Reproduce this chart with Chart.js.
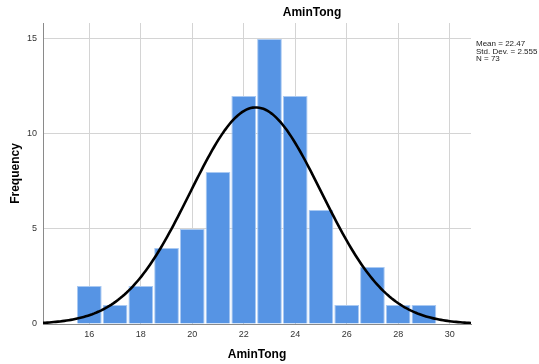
<!DOCTYPE html>
<html>
<head>
<meta charset="utf-8">
<script src="https://cdn.jsdelivr.net/npm/chart.js@4"></script>
<style>
  html, body { margin: 0; padding: 0; background: #fff; }
  #wrap { width: 539px; height: 364px; }
</style>
</head>
<body>
<div id="wrap"><canvas id="myChart" width="539" height="364"></canvas></div>
<script>
// histogram bins (bin centre, width 1) and counts
const binCenters = [16, 17, 18, 19, 20, 21, 22, 23, 24, 25, 26, 27, 28, 29];
const counts = [2, 1, 2, 4, 5, 8, 12, 15, 12, 6, 1, 3, 1, 1];
const yTicks = [0, 5, 10, 15];
const xTicks = [16, 18, 20, 22, 24, 26, 28, 30];

// stats shown at the right, used for the normal curve
const mean = 22.47;
const stdDev = 2.555;
const n = 73;
const statsLines = ['Mean = 22.47', 'Std. Dev. = 2.555', 'N = 73'];

const xMin = 14.2;
const xMax = 30.83;

// fitted normal curve, scaled to counts (bin width 1)
const curvePoints = [];
for (let i = 0; i <= 200; i++) {
  const x = xMin + (xMax - xMin) * i / 200;
  const z = (x - mean) / stdDev;
  const y = n / (stdDev * Math.sqrt(2 * Math.PI)) * Math.exp(-0.5 * z * z);
  curvePoints.push({ x: x, y: y });
}

const textPlugin = {
  id: 'spssText',
  afterDraw(chart) {
    const { ctx } = chart;
    ctx.save();
    ctx.fillStyle = '#000';
    ctx.font = 'bold 12px "Liberation Sans", Arial, sans-serif';
    ctx.textAlign = 'center';
    ctx.textBaseline = 'middle';
    ctx.fillText('AminTong', 312, 13);

    ctx.font = '8px "Liberation Sans", Arial, sans-serif';
    ctx.textAlign = 'left';
    ctx.fillStyle = '#222';
    statsLines.forEach((line, i) => {
      ctx.fillText(line, 476, 44 + i * 7.5);
    });
    ctx.restore();
  },
};

const ctx = document.getElementById('myChart');
new Chart(ctx, {
  type: 'bar',
  data: {
    datasets: [
      {
        type: 'line',
        data: curvePoints,
        borderColor: '#000',
        borderWidth: 2.6,
        pointRadius: 0,
        tension: 0,
        fill: false,
        order: 0,
      },
      {
        type: 'bar',
        data: binCenters.map((c, i) => ({ x: c, y: counts[i] })),
        backgroundColor: '#5694e4',
        borderColor: '#a9c9f2',
        borderWidth: 1,
        barPercentage: 0.96,
        categoryPercentage: 1,
        order: 1,
      },
    ],
  },
  options: {
    responsive: false,
    animation: false,
    layout: { padding: { top: 23, right: 68, left: 0, bottom: 0 } },
    plugins: {
      legend: { display: false },
      tooltip: { enabled: false },
      title: { display: false },
    },
    scales: {
      x: {
        type: 'linear',
        min: xMin,
        max: xMax,
        offset: false,
        afterBuildTicks: (scale) => { scale.ticks = xTicks.map(v => ({ value: v })); },
        afterFit: (scale) => { scale.height = 40; },
        grid: { color: '#d4d4d4', lineWidth: 1, drawTicks: false, offset: false },
        border: { color: '#8a8a8a', width: 1 },
        ticks: {
          color: '#333',
          font: { size: 9, family: '"Liberation Sans", Arial, sans-serif' },
          padding: 5,
          maxRotation: 0,
        },
        title: {
          display: true,
          text: 'AminTong',
          color: '#000',
          font: { size: 12, weight: 'bold', family: '"Liberation Sans", Arial, sans-serif' },
          padding: { top: 6, bottom: 2 },
        },
      },
      y: {
        min: 0,
        max: 15.84,
        afterBuildTicks: (scale) => { scale.ticks = yTicks.map(v => ({ value: v })); },
        afterFit: (scale) => { scale.width = 43; },
        grid: { color: '#d4d4d4', lineWidth: 1, drawTicks: false },
        border: { color: '#8a8a8a', width: 1 },
        ticks: {
          color: '#333',
          font: { size: 9, family: '"Liberation Sans", Arial, sans-serif' },
          padding: 6,
        },
        title: {
          display: true,
          text: 'Frequency',
          color: '#000',
          font: { size: 12, weight: 'bold', family: '"Liberation Sans", Arial, sans-serif' },
          padding: { top: 8, bottom: 4 },
        },
      },
    },
  },
  plugins: [textPlugin],
});
</script>
</body>
</html>
